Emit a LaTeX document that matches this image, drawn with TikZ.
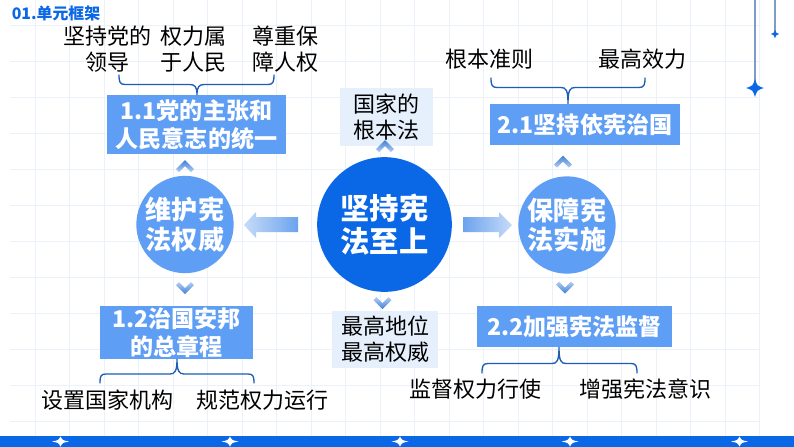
\documentclass[tikz,border=0pt]{standalone}
\usepackage{fontspec}
\setmainfont{Noto Sans CJK SC}
\usetikzlibrary{calc}
\definecolor{gridc}{HTML}{EBF1F8}
\definecolor{deepb}{HTML}{0A68E6}
\definecolor{midb}{HTML}{5F9EF5}
\definecolor{paleb}{HTML}{E6F0FC}
\definecolor{brc}{HTML}{1D5DB8}
\definecolor{hangc}{HTML}{7F9CC5}
\definecolor{chevd}{HTML}{3F7FD8}
\definecolor{chevl}{HTML}{B4CFF4}
\definecolor{arrd}{HTML}{6CA3EE}
\definecolor{arrl}{HTML}{C6DBF8}
\newcommand{\pxfont}[2]{\fontsize{#1}{#2}\selectfont}
\tikzset{
  x=0.75pt,y=-0.75pt,
  gridline/.style={gridc,line width=0.75pt},
  blacktxt/.style={text=black,align=center,inner sep=0pt,font=\pxfont{16.5pt}{19.6pt}},
  subbox/.style={fill=midb,text=white,align=center,inner sep=0pt,font=\bfseries\pxfont{17.3pt}{21pt}},
  palebox/.style={fill=paleb,text=black,align=center,inner sep=0pt,font=\pxfont{16.5pt}{19.6pt}},
  sidec/.style={circle,fill=midb,text=white,align=center,inner sep=0pt,minimum size=73pt,font=\bfseries\pxfont{19.6pt}{22pt}},
  mainc/.style={circle,fill=deepb,text=white,align=center,inner sep=0pt,minimum size=101pt,font=\bfseries\pxfont{22pt}{24.5pt}},
  bracel/.style={brc,line width=1pt,line cap=round},
  spark/.pic={\fill (0,-1) .. controls (.24,-.24) .. (1,0) .. controls (.24,.24) .. (0,1) .. controls (-.24,.24) .. (-1,0) .. controls (-.24,-.24) .. (0,-1) -- cycle;},
  chevup/.pic={\path[shade,top color=chevd,bottom color=chevl] (0,0) -- (9,9) -- (6,12) -- (0,6) -- (-6,12) -- (-9,9) -- cycle;},
  chevdn/.pic={\path[shade,bottom color=chevd,top color=chevl] (0,12) -- (9,3) -- (6,0) -- (0,6) -- (-6,0) -- (-9,3) -- cycle;}
}
\begin{document}
\begin{tikzpicture}
\useasboundingbox (0,0) rectangle (794,447);
\fill[white] (0,0) rectangle (794,447);
% grid
\foreach \k in {0,...,21}{\draw[gridline] ({35+34.5*\k},0) -- ({35+34.5*\k},436);}
\foreach \k in {0,...,11}{\draw[gridline] (10,{25+36*\k}) -- (760,{25+36*\k});}
% hanging ornaments
\coordinate (hangA) at (755,0); \coordinate (sparkA) at (755,88);
\coordinate (hangB) at (775,0); \coordinate (sparkB) at (775,34);
\draw[hangc,line width=0.8pt] (hangA) -- (sparkA);
\draw[hangc,line width=0.8pt] (hangB) -- (sparkB);
\pic[color=deepb,xscale=9,yscale=9] at (sparkA) {spark};
\pic[color=deepb,xscale=4.2,yscale=4.2] at (sparkB) {spark};
% bottom bar
\fill[deepb] (0,436) rectangle (794,447);
\foreach \sx in {60.5,230,400,570,739.5}{\pic[color=white,xscale=8.5,yscale=5] at (\sx,441.5) {spark};}
% header
\node[anchor=west,inner sep=0pt,text=deepb,font=\bfseries\pxfont{11.9pt}{14pt}] (head) at (11.5,13) {01.单元框架};
% boxes
\node[subbox,minimum width=134.2pt,minimum height=44.5pt] (b11) at (196.5,124.5) {1.1党的主张和\\人民意志的统一};
\node[subbox,minimum width=115pt,minimum height=39.7pt] (b12) at (176.5,332.5) {1.2治国安邦\\的总章程};
\node[subbox,minimum width=142.5pt,minimum height=30.7pt] (b21) at (585,124.5) {2.1坚持依宪治国};
\node[subbox,minimum width=146.2pt,minimum height=30.7pt] (b22) at (574.5,326.5) {2.2加强宪法监督};
\node[palebox,minimum width=70pt,minimum height=43.5pt] (p1) at (386.5,117) {国家的\\根本法};
\node[palebox,minimum width=79.5pt,minimum height=43pt] (p2) at (385,339.5) {最高地位\\最高权威};
% circles
\node[sidec] (cL) at (185,224.5) {维护宪\\法权威};
\node[sidec] (cR) at (567,225) {保障宪\\法实施};
\node[mainc] (cM) at (384.5,224.5) {坚持宪\\法至上};
% arrows
\path[shade,left color=arrl,right color=arrd] (244,225) -- (256,212) -- (256,217) -- (298,217) -- (298,232) -- (256,232) -- (256,238) -- cycle;
\path[shade,left color=arrd,right color=arrl] (512,225) -- (499,212) -- (499,217) -- (463,217) -- (463,232) -- (499,232) -- (499,238) -- cycle;
% chevrons
\pic at (185,160) {chevup};
\pic at (563,155.5) {chevup};
\pic at (385,140) {chevup};
\pic at (185,282) {chevdn};
\pic at (382.5,297) {chevdn};
\pic at (565,281.5) {chevdn};
% outer texts
\node[blacktxt] (t1) at (107.5,49) {坚持党的\\领导};
\node[blacktxt] (t2) at (193,49) {权力属\\于人民};
\node[blacktxt] (t3) at (285.5,49) {尊重保\\障人权};
\node[blacktxt] (t4) at (489,59.5) {根本准则};
\node[blacktxt] (t5) at (642,59.5) {最高效力};
\node[blacktxt] (t6) at (107.5,400.5) {设置国家机构};
\node[blacktxt] (t7) at (262.5,400.5) {规范权力运行};
\node[blacktxt] (t8) at (475,389) {监督权力行使};
\node[blacktxt] (t9) at (645.5,389) {增强宪法意识};
% braces
\coordinate (s11) at (197,95);
\draw[bracel] (119,75) .. controls (119,82) and (120,84.5) .. (125,84.5) -- (190,84.5) .. controls (195,84.5) and (197,87) .. (s11) .. controls (197,87) and (199,84.5) .. (204,84.5) -- (268,84.5) .. controls (273,84.5) and (274,82) .. (274,75);
\coordinate (s21) at (568,104);
\draw[bracel] (491,78) .. controls (491,85) and (492,87.5) .. (497,87.5) -- (561,87.5) .. controls (566,87.5) and (568,90) .. (s21) .. controls (568,90) and (570,87.5) .. (575,87.5) -- (639,87.5) .. controls (644,87.5) and (645,85) .. (645,78);
\coordinate (s12) at (177,359);
\draw[bracel] (100,383) .. controls (100,376) and (101,374) .. (106,374) -- (170,374) .. controls (175,374) and (177,371) .. (s12) .. controls (177,371) and (179,374) .. (184,374) -- (248,374) .. controls (253,374) and (254,376) .. (254,383);
\coordinate (s22) at (559,347);
\draw[bracel] (482,373) .. controls (482,366) and (483,363.5) .. (488,363.5) -- (552,363.5) .. controls (557,363.5) and (559,361) .. (s22) .. controls (559,361) and (561,363.5) .. (566,363.5) -- (631,363.5) .. controls (636,363.5) and (637,366) .. (637,373);
\end{tikzpicture}
\end{document}
